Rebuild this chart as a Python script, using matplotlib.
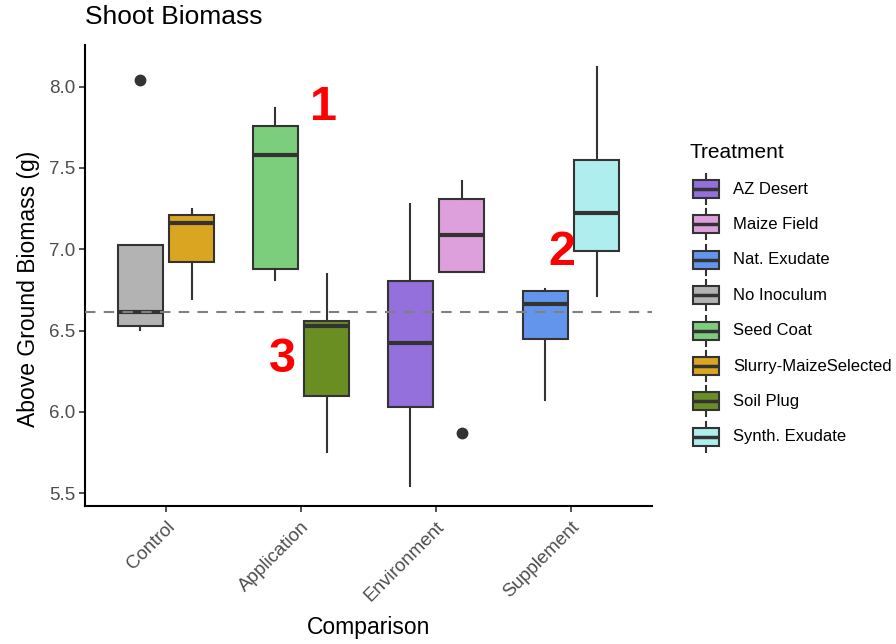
import numpy as np
import matplotlib.pyplot as plt
from matplotlib.patches import Rectangle

plt.rcParams['font.family'] = ['Liberation Sans', 'DejaVu Sans']

# --- data ---
comparisons = ['Control', 'Application', 'Environment', 'Supplement']
treatments = ['AZ Desert', 'Maize Field', 'Nat. Exudate', 'No Inoculum',
              'Seed Coat', 'Slurry-MaizeSelected', 'Soil Plug', 'Synth. Exudate']
treat_comparison = ['Environment', 'Environment', 'Supplement', 'Control',
                    'Application', 'Control', 'Application', 'Supplement']
treat_slot = [0, 1, 0, 0, 0, 1, 1, 1]   # left / right within the comparison

whisk_lo = [5.543, 6.859, 6.073, 6.504, 6.812, 6.693, 5.751, 6.713]
box_q1 = [6.028, 6.859, 6.450, 6.530, 6.877, 6.925, 6.099, 6.988]
box_med = [6.422, 7.091, 6.662, 6.617, 7.581, 7.160, 6.528, 7.224]
box_q3 = [6.808, 7.308, 6.744, 7.027, 7.758, 7.208, 6.559, 7.550]
whisk_hi = [7.278, 7.417, 6.756, 7.027, 7.866, 7.247, 6.847, 8.123]
outliers = [[], [5.871], [], [8.038], [], [], [], []]

colors = ['#9370DB', '#DDA0DD', '#6495ED', '#B3B3B3',
          '#7CCD7C', '#DAA520', '#6B8E23', '#AFEEEE']

ref_line = 6.617

labels_txt = ['1', '2', '3']
labels_x = [2.17, 3.93, 1.86]
labels_y = [7.87, 6.98, 6.32]

EDGE = '#333333'

fig = plt.figure(figsize=(8.96, 6.44), dpi=100)
ax = fig.add_axes([85 / 896, 1 - 506 / 644, 567 / 896, 461 / 644])

stats = []
positions = []
for i, name in enumerate(treatments):
    stats.append(dict(med=box_med[i], q1=box_q1[i], q3=box_q3[i],
                      whislo=whisk_lo[i], whishi=whisk_hi[i],
                      fliers=outliers[i], label=name))
    pos = comparisons.index(treat_comparison[i]) + 1
    positions.append(pos + (-0.189 if treat_slot[i] == 0 else 0.189))

bp = ax.bxp(stats, positions=positions, widths=0.34, patch_artist=True,
            showcaps=False,
            boxprops=dict(edgecolor=EDGE, linewidth=1.5),
            whiskerprops=dict(color=EDGE, linewidth=1.5),
            medianprops=dict(color=EDGE, linewidth=3.0, solid_capstyle='butt'),
            flierprops=dict(marker='o', markerfacecolor=EDGE, markeredgecolor=EDGE,
                            markersize=7.5),
            manage_ticks=False)
for patch, c in zip(bp['boxes'], colors):
    patch.set_facecolor(c)

ax.axhline(ref_line, color='#808080', linestyle=(0, (5, 4)), linewidth=1.5, zorder=5)

for t, x, y in zip(labels_txt, labels_x, labels_y):
    ax.text(x, y, t, color='#FF0000', fontsize=35, fontweight='bold',
            ha='center', va='center')

ax.set_xlim(0.4, 4.6)
ax.set_ylim(5.422, 8.256)
ax.set_xticks(range(1, 5))
ax.set_xticklabels(comparisons, rotation=45, ha='right', va='top',
                   rotation_mode='anchor')
ax.set_yticks([5.5, 6.0, 6.5, 7.0, 7.5, 8.0])
ax.set_yticklabels(['5.5', '6.0', '6.5', '7.0', '7.5', '8.0'])
ax.tick_params(axis='both', colors=EDGE, labelcolor='#4D4D4D', labelsize=13.5,
               length=4, width=1.2, pad=3)
ax.tick_params(axis='x', pad=5)
for s in ['top', 'right']:
    ax.spines[s].set_visible(False)
for s in ['left', 'bottom']:
    ax.spines[s].set_linewidth(1.5)
    ax.spines[s].set_color('black')

ax.set_ylabel('Above Ground Biomass (g)', fontsize=16.5)
ax.yaxis.set_label_coords(-0.08, 0.47)
ax.set_xlabel('Comparison', fontsize=16.5)
ax.xaxis.set_label_coords(0.5, -0.238)
fig.text(85 / 896, 1 - 17 / 644, 'Shoot Biomass', fontsize=19, ha='left', va='center')

# legend drawn in pixel coordinates
lg = fig.add_axes([0, 0, 1, 1], zorder=-1)
lg.set_xlim(0, 896)
lg.set_ylim(644, 0)
lg.axis('off')
lg.text(690, 152, 'Treatment', fontsize=15, ha='left', va='center')
for i, name in enumerate(treatments):
    cy = 189 + i * 35.4
    lg.plot([706, 706], [cy - 15, cy + 15], color=EDGE, linewidth=1.5, zorder=1)
    lg.add_patch(Rectangle((693, cy - 9), 26, 18, facecolor=colors[i],
                           edgecolor=EDGE, linewidth=1.5, zorder=2))
    lg.plot([693, 719], [cy, cy], color=EDGE, linewidth=2.5, zorder=3,
            solid_capstyle='butt')
    lg.text(733, cy, name, fontsize=12, ha='left', va='center')

fig.savefig('out.png', dpi=100)
